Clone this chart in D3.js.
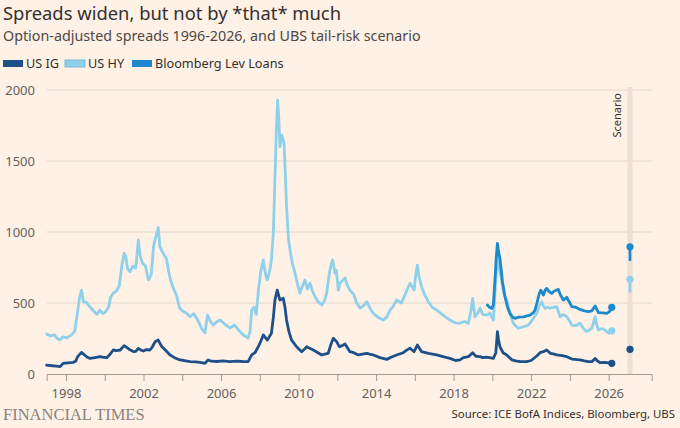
<!DOCTYPE html>
<html><head><meta charset="utf-8">
<script src="https://cdn.jsdelivr.net/npm/d3@7"></script>
<style>
html,body{margin:0;padding:0;background:#fff1e5;}
svg{display:block;}
</style></head>
<body><svg id="chart" width="680" height="428"></svg>
<script>
const seriesNames = ["US IG", "US HY", "Bloomberg Lev Loans"];
const seriesColors = ["#1d4f88", "#8fd0ea", "#1b89cc"];
const yTicks = [0, 500, 1000, 1500, 2000];
const xTickYears = [1998,2000,2002,2004,2006,2008,2010,2012,2014,2016,2018,2020,2022,2024,2026];
const xLabelYears = [1998,2002,2006,2010,2014,2018,2022,2026];

const usIG = [[1997.0,63],[1997.3,58],[1997.5,55],[1997.7,52],[1997.85,75],[1998.1,78],[1998.37,82],[1998.5,90],[1998.6,122],[1998.8,152],[1998.95,135],[1999.1,118],[1999.24,110],[1999.5,115],[1999.75,122],[1999.9,118],[2000.1,115],[2000.25,135],[2000.44,169],[2000.6,165],[2000.8,169],[2001.0,200],[2001.15,185],[2001.3,170],[2001.5,157],[2001.6,160],[2001.73,181],[2001.85,170],[2002.0,162],[2002.15,172],[2002.33,169],[2002.45,190],[2002.6,227],[2002.76,239],[2002.85,215],[2002.95,192],[2003.15,165],[2003.37,134],[2003.6,115],[2003.88,99],[2004.1,95],[2004.4,87],[2004.7,85],[2005.0,80],[2005.17,75],[2005.33,99],[2005.5,90],[2005.8,88],[2006.1,92],[2006.46,87],[2006.8,90],[2007.1,88],[2007.4,87],[2007.58,134],[2007.75,150],[2007.92,192],[2008.05,230],[2008.18,275],[2008.39,239],[2008.6,286],[2008.7,400],[2008.78,521],[2008.9,591],[2009.04,521],[2009.21,533],[2009.3,470],[2009.38,380],[2009.5,300],[2009.64,239],[2009.9,192],[2010.16,157],[2010.3,175],[2010.42,192],[2010.6,180],[2010.76,169],[2011.0,150],[2011.2,134],[2011.35,140],[2011.53,146],[2011.65,200],[2011.79,251],[2011.97,227],[2012.1,192],[2012.25,200],[2012.4,211],[2012.65,157],[2012.85,150],[2013.08,134],[2013.3,140],[2013.52,146],[2013.7,138],[2013.86,134],[2014.2,115],[2014.55,103],[2014.8,120],[2015.06,134],[2015.4,150],[2015.6,170],[2015.75,181],[2015.96,157],[2016.13,204],[2016.35,157],[2016.7,145],[2017.13,134],[2017.5,120],[2017.81,110],[2018.1,95],[2018.33,99],[2018.5,115],[2018.76,122],[2018.98,150],[2019.15,125],[2019.36,122],[2019.5,115],[2019.7,118],[2020.05,110],[2020.18,150],[2020.26,298],[2020.32,240],[2020.39,192],[2020.55,150],[2020.74,134],[2021.0,100],[2021.2,92],[2021.43,87],[2021.77,87],[2022.0,95],[2022.29,127],[2022.46,150],[2022.63,157],[2022.8,169],[2023.0,145],[2023.2,140],[2023.32,134],[2023.6,130],[2023.84,122],[2024.1,105],[2024.52,99],[2024.75,92],[2024.95,87],[2025.15,88],[2025.3,110],[2025.4,95],[2025.55,80],[2025.8,82],[2026.0,78],[2026.16,75]];

const usHY = [[1997.0,282],[1997.2,268],[1997.4,275],[1997.55,250],[1997.7,240],[1997.85,262],[1998.05,255],[1998.25,272],[1998.45,300],[1998.58,420],[1998.7,540],[1998.8,591],[1998.9,510],[1999.05,505],[1999.25,470],[1999.45,440],[1999.6,420],[1999.75,450],[1999.9,425],[2000.05,440],[2000.2,470],[2000.3,540],[2000.45,570],[2000.6,585],[2000.75,620],[2000.88,760],[2001.0,850],[2001.08,830],[2001.18,740],[2001.3,720],[2001.45,760],[2001.6,745],[2001.73,943],[2001.83,830],[2001.95,780],[2002.1,760],[2002.25,662],[2002.4,700],[2002.52,900],[2002.62,960],[2002.7,1000],[2002.76,1033],[2002.84,900],[2002.94,870],[2003.1,830],[2003.2,803],[2003.3,720],[2003.4,660],[2003.55,600],[2003.7,556],[2003.85,470],[2004.0,445],[2004.2,430],[2004.4,403],[2004.6,425],[2004.8,380],[2005.0,320],[2005.17,289],[2005.3,415],[2005.45,370],[2005.6,345],[2005.8,370],[2005.95,380],[2006.2,350],[2006.46,324],[2006.7,345],[2006.9,310],[2007.15,275],[2007.4,253],[2007.5,300],[2007.58,450],[2007.7,470],[2007.82,420],[2007.92,580],[2008.05,720],[2008.18,803],[2008.3,700],[2008.39,662],[2008.5,720],[2008.6,803],[2008.7,1000],[2008.78,1366],[2008.85,1700],[2008.92,1929],[2008.98,1800],[2009.04,1600],[2009.13,1683],[2009.25,1626],[2009.32,1400],[2009.38,1178],[2009.48,950],[2009.56,873],[2009.68,780],[2009.8,720],[2009.95,630],[2010.07,570],[2010.2,620],[2010.33,662],[2010.45,600],[2010.59,640],[2010.7,590],[2010.85,544],[2011.0,510],[2011.2,486],[2011.35,520],[2011.45,570],[2011.6,720],[2011.7,780],[2011.76,803],[2011.88,710],[2011.95,730],[2012.05,591],[2012.14,640],[2012.4,676],[2012.5,630],[2012.65,590],[2012.85,560],[2013.0,500],[2013.17,464],[2013.35,480],[2013.52,509],[2013.7,460],[2013.86,427],[2014.1,400],[2014.37,380],[2014.55,400],[2014.72,450],[2014.9,480],[2015.06,521],[2015.3,500],[2015.5,560],[2015.75,640],[2015.96,591],[2016.05,700],[2016.13,767],[2016.22,680],[2016.35,615],[2016.5,560],[2016.69,509],[2016.9,470],[2017.13,450],[2017.4,420],[2017.6,400],[2017.81,380],[2018.1,360],[2018.33,357],[2018.55,370],[2018.76,357],[2018.9,450],[2018.98,533],[2019.1,403],[2019.25,430],[2019.36,464],[2019.5,420],[2019.71,415],[2019.88,429],[2020.05,380],[2020.15,600],[2020.26,870],[2020.33,760],[2020.45,680],[2020.6,560],[2020.75,520],[2020.9,430],[2021.08,357],[2021.2,340],[2021.34,322],[2021.6,333],[2021.8,340],[2021.94,357],[2022.15,400],[2022.29,427],[2022.42,480],[2022.55,509],[2022.63,480],[2022.72,462],[2022.85,470],[2022.97,464],[2023.15,470],[2023.32,474],[2023.49,403],[2023.65,420],[2023.84,403],[2024.0,370],[2024.1,345],[2024.3,340],[2024.52,357],[2024.7,320],[2024.87,298],[2025.13,322],[2025.25,380],[2025.3,403],[2025.38,350],[2025.47,310],[2025.65,320],[2025.81,310],[2026.02,286],[2026.16,303]];

const levLoans = [[2019.74,486],[2019.85,470],[2019.97,462],[2020.05,486],[2020.15,700],[2020.19,803],[2020.26,920],[2020.3,880],[2020.4,803],[2020.52,650],[2020.65,544],[2020.78,470],[2020.91,427],[2021.05,400],[2021.17,392],[2021.35,400],[2021.6,403],[2021.8,410],[2021.94,415],[2022.1,430],[2022.2,450],[2022.3,500],[2022.42,568],[2022.5,590],[2022.63,556],[2022.72,590],[2022.8,603],[2022.93,580],[2023.06,568],[2023.2,585],[2023.4,596],[2023.5,560],[2023.66,521],[2023.84,540],[2024.0,500],[2024.1,474],[2024.3,470],[2024.52,455],[2024.75,445],[2024.95,439],[2025.13,445],[2025.3,479],[2025.47,432],[2025.7,430],[2025.9,427],[2026.05,440],[2026.16,470]];

const scenarioYear = 2027.1;
const scenarioLow = [174, 575, 796];
const scenarioHigh = [174, 667, 896];

const svg = d3.select("#chart");
const x = d3.scaleLinear().domain([1997, 2028.22]).range([46.6, 651.7]);
const y = d3.scaleLinear().domain([0, 2000]).range([374, 90]);

const font = "'Noto Sans', sans-serif";

// Title
svg.append("text").attr("x", 3).attr("y", 20).text("Spreads widen, but not by *that* much")
  .attr("font-family", font).attr("font-size", 18.4).attr("fill", "#33302e");
svg.append("text").attr("x", 3).attr("y", 41).text("Option-adjusted spreads 1996-2026, and UBS tail-risk scenario")
  .attr("font-family", font).attr("font-size", 14.3).attr("fill", "#4d4845");

// Legend
const legendX = [3, 65, 132];
seriesNames.forEach((n, i) => {
  svg.append("rect").attr("x", legendX[i]).attr("y", 60).attr("width", 20).attr("height", 7)
    .attr("fill", seriesColors[i]).attr("stroke", i === 1 ? "#74bcdc" : "none").attr("stroke-width", 1);
  svg.append("text").attr("x", legendX[i] + 23).attr("y", 68).text(n)
    .attr("font-family", font).attr("font-size", 12.7).attr("fill", "#33302e");
});

// Gridlines
svg.append("g").selectAll("line").data(yTicks.filter(d => d > 0)).join("line")
  .attr("x1", x(1997)).attr("x2", x(2028.22)).attr("y1", d => y(d)).attr("y2", d => y(d))
  .attr("stroke", "#e3d6cb").attr("stroke-width", 1);
svg.append("g").selectAll("text").data(yTicks).join("text")
  .attr("x", 35).attr("y", d => y(d)).attr("dy", "0.35em").attr("text-anchor", "end")
  .text(d => d).attr("font-family", font).attr("font-size", 13).attr("fill", "#66605c");

// Scenario band
svg.append("rect").attr("x", x(scenarioYear) - 2.5).attr("y", 87).attr("width", 5).attr("height", y(0) - 87)
  .attr("fill", "#ecdfd4");
svg.append("text").attr("transform", `translate(${x(scenarioYear) - 9},93) rotate(-90)`)
  .attr("text-anchor", "end").text("Scenario")
  .attr("font-family", font).attr("font-size", 11).attr("fill", "#33302e");

// X axis
const xAxis = d3.axisBottom(x).tickValues(xTickYears).tickSize(7)
  .tickFormat(d => xLabelYears.includes(d) ? d : "");
const gx = svg.append("g").attr("transform", `translate(0,${y(0)})`).call(xAxis);
gx.select(".domain").attr("stroke", "#a39b94");
gx.selectAll(".tick line").attr("stroke", "#a39b94");
gx.selectAll(".tick text").attr("font-family", font).attr("font-size", 13).attr("fill", "#66605c").attr("dy", "1.05em");

// Lines
const line = d3.line().x(d => x(d[0])).y(d => y(d[1]));
const allSeries = [usHY, levLoans, usIG];
const colIdx = [1, 2, 0];
allSeries.forEach((s, k) => {
  const c = seriesColors[colIdx[k]];
  svg.append("path").datum(s).attr("d", line).attr("fill", "none")
    .attr("stroke", c).attr("stroke-width", 2.8).attr("stroke-linejoin", "round").attr("stroke-linecap", "round");
  const last = s[s.length - 1];
  svg.append("circle").attr("cx", x(last[0])).attr("cy", y(last[1])).attr("r", 3.6).attr("fill", c);
});

// Scenario marks
[1, 2, 0].forEach(i => {
  const c = seriesColors[i];
  svg.append("line").attr("x1", x(scenarioYear)).attr("x2", x(scenarioYear))
    .attr("y1", y(scenarioLow[i])).attr("y2", y(scenarioHigh[i]))
    .attr("stroke", c).attr("stroke-width", 2.6);
  svg.append("circle").attr("cx", x(scenarioYear)).attr("cy", y(scenarioHigh[i])).attr("r", 3.6).attr("fill", c);
});

// Footer
svg.append("text").attr("x", 3).attr("y", 420).text("FINANCIAL TIMES")
  .attr("font-family", "'Liberation Serif', 'DejaVu Serif', serif").attr("font-size", 16.5).attr("fill", "#8a837e");
svg.append("text").attr("x", 675).attr("y", 418).attr("text-anchor", "end").text("Source: ICE BofA Indices, Bloomberg, UBS")
  .attr("font-family", font).attr("font-size", 11.4).attr("fill", "#33302e");
</script></body></html>
